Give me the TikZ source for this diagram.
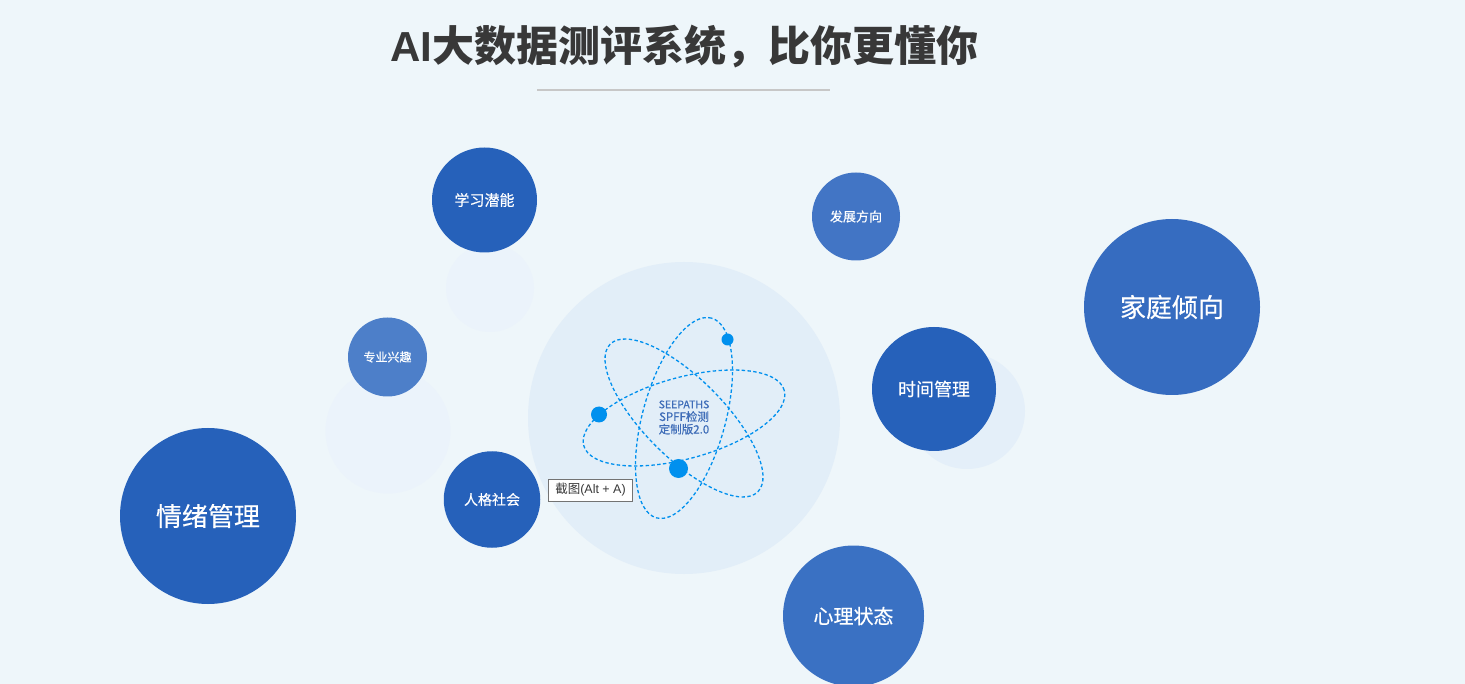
\documentclass[tikz,border=0pt]{standalone}
\usepackage{fontspec}
\setmainfont{Liberation Sans}
\newfontfamily\cjk[FakeBold=0.35]{Noto Sans CJK SC}
\newfontfamily\cjklogo[FakeBold=0.6]{Noto Sans CJK SC}
\newfontfamily\cjkplain{Noto Sans CJK SC}
\newfontfamily\lat{Liberation Sans}
\definecolor{bgc}{HTML}{EEF6FA}
\definecolor{halo}{HTML}{E2EEF8}
\definecolor{paleA}{HTML}{EBF3FB}
\definecolor{paleB}{HTML}{E4EFF9}
\definecolor{deep}{HTML}{2661BA}
\definecolor{midA}{HTML}{366CC0}
\definecolor{midB}{HTML}{3A71C3}
\definecolor{midC}{HTML}{4275C5}
\definecolor{midD}{HTML}{4D7FC9}
\definecolor{orbit}{HTML}{0090EE}
\definecolor{logo}{HTML}{3F6DB8}
\definecolor{ink}{HTML}{383838}
\tikzset{
  bubble/.style={circle,inner sep=0pt,text=white,align=center},
  pale/.style={circle,inner sep=0pt},
  orbitline/.style={draw=orbit,line width=1.3pt,dash pattern=on 3.4pt off 2.4pt},
  dot/.style={circle,fill=orbit,inner sep=0pt},
}
\begin{document}
\begin{tikzpicture}[x=1pt,y=-1pt]
\useasboundingbox (0,0) rectangle (1465,684);
\fill[bgc] (0,0) rectangle (1465,684);
\clip (0,0) rectangle (1465,684);
\node[text=ink,font=\fontsize{42}{42}\selectfont\bfseries\cjkplain,inner sep=0pt] (title) at (684,47) {{\lat\bfseries AI}大数据测评系统，比你更懂你};
\coordinate (ruleL) at (537,90);
\coordinate (ruleR) at (830,90);
\draw[draw=black!22,line width=1.6pt] (ruleL) -- (ruleR);
% pale circles
\node[pale,fill=paleA,minimum size=88pt] (p1) at (490,288) {};
\node[pale,fill=paleA,minimum size=125pt] (p2) at (388,431) {};
\node[pale,fill=paleB,minimum size=116pt] (p3) at (967,411) {};
\node[pale,fill=halo,minimum size=312pt] (hub) at (684,418) {};
% orbits
\draw[orbitline,shift={(684,418)},rotate=15.4] (0,0) ellipse [x radius=104pt,y radius=40.7pt];
\draw[orbitline,shift={(684,418)},rotate=-45] (0,0) ellipse [x radius=104.4pt,y radius=39.7pt];
\draw[orbitline,shift={(684,418)},rotate=74.6] (0,0) ellipse [x radius=103.6pt,y radius=41.4pt];
\node[dot,minimum size=12pt] (d1) at (727.5,339.5) {};
\node[dot,minimum size=19pt] (d3) at (678.5,468.5) {};
\node[dot,minimum size=16pt] (d2) at (599,414.5) {};
\node[text=logo,font=\fontsize{11.5}{12.6}\selectfont\cjklogo,align=center,inner sep=0pt] (brand) at (684,417.5) {{\fontsize{10.5}{12.6}\selectfont SEEPATHS}\\SPFF检测\\定制版2.0};
% bubbles
\node[bubble,fill=deep,minimum size=105pt,font=\fontsize{15}{15}\selectfont\cjk] (b1) at (484.5,200) {\raisebox{0.7pt}{学习潜能}};
\node[bubble,fill=midC,minimum size=88pt,font=\fontsize{13}{13}\selectfont\cjk] (b2) at (856,216.5) {\raisebox{0.7pt}{发展方向}};
\node[bubble,fill=midA,minimum size=176pt,font=\fontsize{26}{26}\selectfont\cjk] (b3) at (1172,307) {家庭倾向};
\node[bubble,fill=deep,minimum size=124pt,font=\fontsize{18}{18}\selectfont\cjk] (b4) at (934,389) {\raisebox{1pt}{时间管理}};
\node[bubble,fill=midD,minimum size=79pt,font=\fontsize{12}{12}\selectfont\cjk] (b5) at (387.5,357) {\raisebox{0.7pt}{专业兴趣}};
\node[bubble,fill=deep,minimum size=176pt,font=\fontsize{26}{26}\selectfont\cjk] (b6) at (208,516) {情绪管理};
\node[bubble,fill=deep,minimum size=96.5pt,font=\fontsize{14}{14}\selectfont\cjk] (b7) at (492,499.5) {\raisebox{0.7pt}{人格社会}};
\node[bubble,fill=midB,minimum size=141pt,font=\fontsize{20}{20}\selectfont\cjk] (b8) at (853.5,616) {\raisebox{0.7pt}{心理状态}};
\node[draw=black!55,fill=white,line width=0.9pt,minimum width=84.5pt,minimum height=22pt,inner sep=0pt,text=ink,font=\fontsize{12.5}{12.5}\selectfont\cjkplain] (tip) at (590.5,490) {截图{\lat(Alt + A)}};
\end{tikzpicture}
\end{document}
